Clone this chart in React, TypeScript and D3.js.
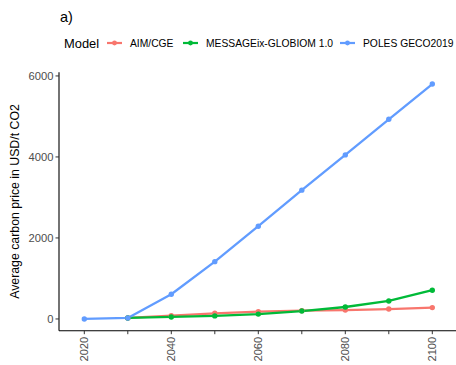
import { useEffect, useRef } from 'react';
import * as d3 from 'd3';

const years = [2020, 2030, 2040, 2050, 2060, 2070, 2080, 2090, 2100];
const models = ['AIM/CGE', 'MESSAGEix-GLOBIOM 1.0', 'POLES GECO2019'];
const colors = ['#F8766D', '#00BA38', '#619CFF'];

// values per model, null where the model has no point
const aimValues = [null, 25, 80, 140, 180, 205, 220, 245, 280];
const messageValues = [null, 25, 50, 75, 120, 195, 295, 445, 710];
const polesValues = [0, 25, 610, 1415, 2290, 3180, 4050, 4930, 5800];

const yTicks = [0, 2000, 4000, 6000];
const xTickLabels = ['2020', '', '2040', '', '2060', '', '2080', '', '2100'];

const FONT = '"Liberation Sans", Arial, sans-serif';

const App = () => {
  const svgRef = useRef<SVGSVGElement>(null);

  useEffect(() => {
    const width = 456;
    const height = 365;
    const svg = d3.select(svgRef.current);
    svg.selectAll('*').remove();
    svg.attr('width', width).attr('height', height).style('font-family', FONT);

    const panelLeft = 59;
    const panelBottom = 330.7;
    const panelTop = 72.3;

    const x = d3.scaleLinear().domain([2020, 2100]).range([84.3, 432.3]);
    const y = d3.scaleLinear().domain([-290, 6090]).range([panelBottom, panelTop]);

    const series = [aimValues, messageValues, polesValues].map((vals, i) => ({
      name: models[i],
      color: colors[i],
      points: years
        .map((yr, j) => ({ year: yr, value: vals[j] }))
        .filter(d => d.value !== null) as { year: number; value: number }[],
    }));

    // title
    svg.append('text')
      .attr('x', 60)
      .attr('y', 22)
      .style('font-size', '14.5px')
      .attr('fill', '#000')
      .text('a)');

    // legend
    const legY = 43;
    const leg = svg.append('g');
    leg.append('text')
      .attr('x', 64)
      .attr('y', legY)
      .attr('dy', '0.35em')
      .style('font-size', '12.9px')
      .text('Model');
    const keyX = [107, 183, 340];
    series.forEach((s, i) => {
      leg.append('line')
        .attr('x1', keyX[i]).attr('x2', keyX[i] + 15)
        .attr('y1', legY).attr('y2', legY)
        .attr('stroke', s.color).attr('stroke-width', 2.2);
      leg.append('circle')
        .attr('cx', keyX[i] + 7.5).attr('cy', legY).attr('r', 2.4)
        .attr('fill', s.color);
      leg.append('text')
        .attr('x', keyX[i] + 23)
        .attr('y', legY)
        .attr('dy', '0.35em')
        .style('font-size', '10.3px')
        .attr('fill', '#000')
        .text(s.name);
    });

    // axes
    const axisColor = '#000';
    svg.append('line')
      .attr('x1', panelLeft).attr('x2', panelLeft)
      .attr('y1', panelTop).attr('y2', panelBottom)
      .attr('stroke', axisColor).attr('stroke-width', 1.1);
    svg.append('line')
      .attr('x1', panelLeft).attr('x2', width)
      .attr('y1', panelBottom).attr('y2', panelBottom)
      .attr('stroke', axisColor).attr('stroke-width', 1.1);

    yTicks.forEach(t => {
      svg.append('line')
        .attr('x1', panelLeft - 3.5).attr('x2', panelLeft)
        .attr('y1', y(t)).attr('y2', y(t))
        .attr('stroke', '#333').attr('stroke-width', 1);
      svg.append('text')
        .attr('x', panelLeft - 5.5)
        .attr('y', y(t))
        .attr('dy', '0.35em')
        .attr('text-anchor', 'end')
        .style('font-size', '11.2px')
        .attr('fill', '#4D4D4D')
        .text(t);
    });

    years.forEach((yr, i) => {
      svg.append('line')
        .attr('x1', x(yr)).attr('x2', x(yr))
        .attr('y1', panelBottom).attr('y2', panelBottom + 3.5)
        .attr('stroke', '#333').attr('stroke-width', 1);
      if (xTickLabels[i]) {
        svg.append('text')
          .attr('transform', `translate(${x(yr)},${panelBottom + 6}) rotate(-90)`)
          .attr('text-anchor', 'end')
          .attr('dy', '0.35em')
          .style('font-size', '11.2px')
          .attr('fill', '#4D4D4D')
          .text(xTickLabels[i]);
      }
    });

    svg.append('text')
      .attr('transform', `translate(15,${(panelTop + panelBottom) / 2}) rotate(-90)`)
      .attr('text-anchor', 'middle')
      .attr('dy', '0.35em')
      .style('font-size', '12.3px')
      .attr('fill', '#000')
      .text('Average carbon price in USD/t CO2');

    // lines and points
    const line = d3.line<{ year: number; value: number }>()
      .x(d => x(d.year))
      .y(d => y(d.value));

    series.forEach(s => {
      svg.append('path')
        .datum(s.points)
        .attr('d', line)
        .attr('fill', 'none')
        .attr('stroke', s.color)
        .attr('stroke-width', 2.3)
        .attr('stroke-linejoin', 'round');
    });
    series.forEach(s => {
      svg.selectAll(null)
        .data(s.points)
        .enter()
        .append('circle')
        .attr('cx', d => x(d.year))
        .attr('cy', d => y(d.value))
        .attr('r', 2.7)
        .attr('fill', s.color);
    });
  }, []);

  return <svg ref={svgRef} style={{ position: 'absolute', left: 0, top: 0 }}></svg>;
};

export default App;
